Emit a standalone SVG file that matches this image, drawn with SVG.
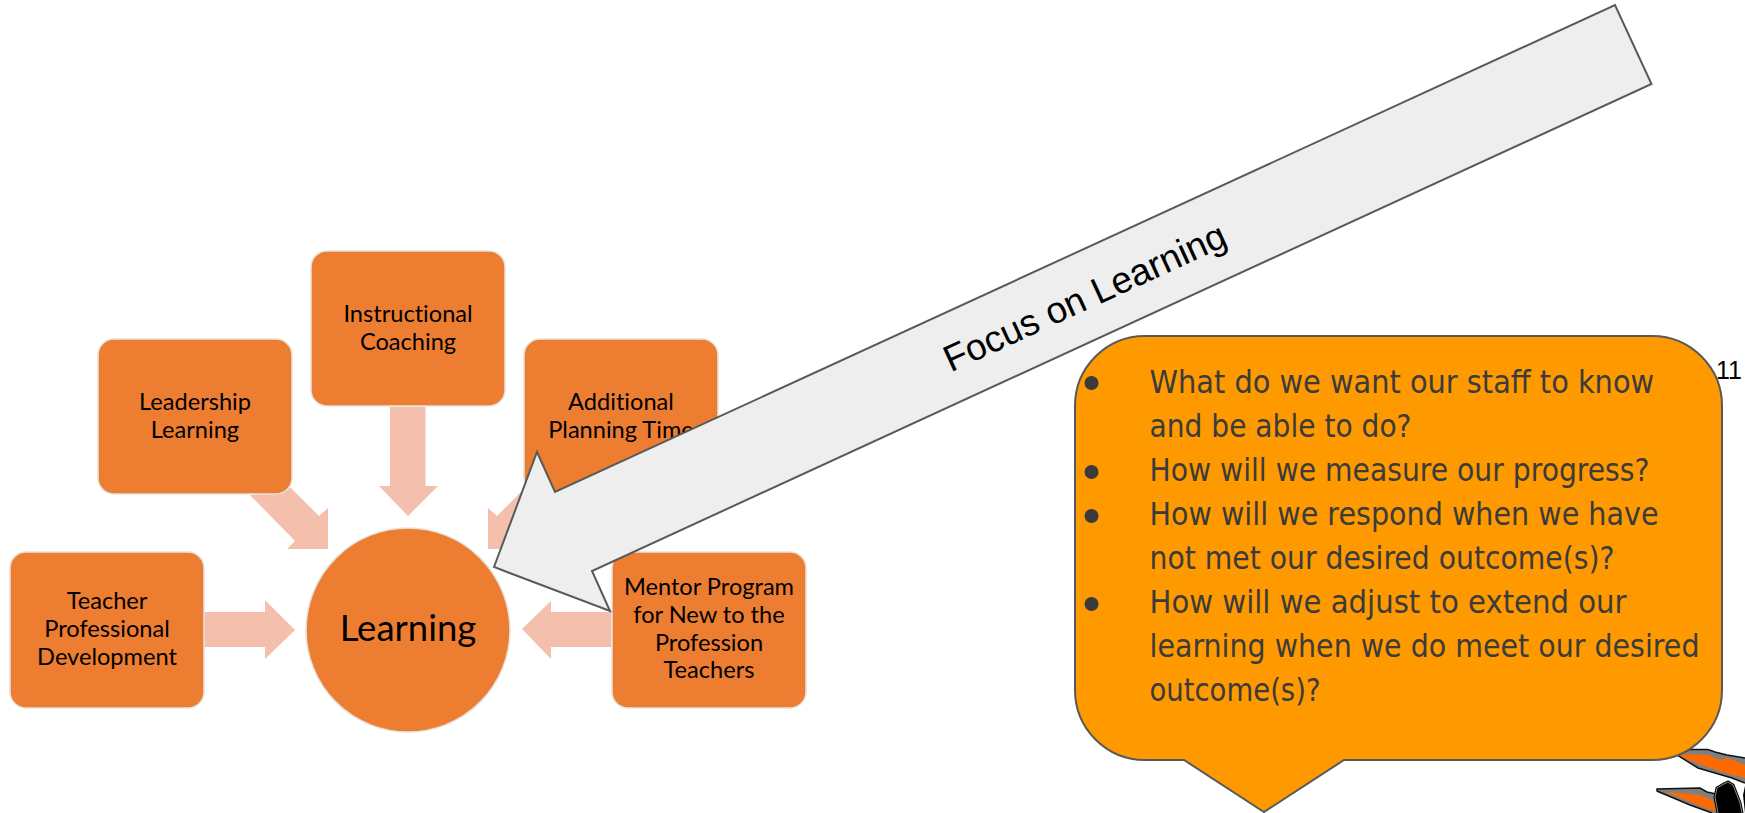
<svg xmlns="http://www.w3.org/2000/svg" width="1745" height="813" viewBox="0 0 1745 813">
<style>
.box{fill:#ed7d31;stroke:#e6e2de;stroke-width:1.5}
.arr{fill:#f4bfac}
.t{font-family:"Lato","Liberation Sans",sans-serif;font-size:23.600px;fill:#000;text-anchor:middle;font-variant-ligatures:none}
.b{font-family:"DejaVu Sans Condensed","DejaVu Sans",sans-serif;font-size:32px;fill:#3b3b3b}
.dot{fill:#3b3b3b}
.o{fill:#ff6a00}
.g{fill:#808080}
.k{fill:none;stroke:#111;stroke-width:1.500}
</style>
<rect width="1745" height="813" fill="#fff"/>
<g id="logo">
<path class="g" d="M1677 755L1690 750H1708L1715 752L1727 755L1745 758V783L1732 778L1698 768Z"/>
<path class="o" d="M1679 756L1685 754L1708 755L1720 760L1728 758L1745 765V778L1725 773L1702 765Z"/>
<path class="k" d="M1745 758L1727 755L1715 752L1708 749.500H1690L1677 755L1698 768L1732 778L1745 783"/>
<path class="g" d="M1657 789L1700 788L1707 792L1716 794L1720 813H1712L1690 805L1657 792Z"/>
<path class="o" d="M1666 792L1700 795L1712 800L1718 811L1705 808Z"/>
<path class="k" d="M1716 794L1707 792L1700 788L1657 789V791L1690 805L1712 813"/>
<path d="M1717 788L1722 785L1728 782L1733 785L1740 803L1742 813H1718L1715 797Z" fill="#000" stroke="#000" stroke-width="3"/>
<path d="M1717 788L1722 785L1728 782L1733 785L1740 803L1742 813M1718 813L1715 797L1717 788" fill="none" stroke="#8a8a8a" stroke-width="1"/>
<path d="M1745 786L1743 795L1745 813Z" fill="#000"/>
</g>
<g id="connectors">
<path class="arr" d="M390 407H425.500V486H438L408 516L379 486H390Z"/>
<path class="arr" d="M204 612H265V600L295 630L265 659V647H204Z"/>
<path class="arr" d="M611 612H551V601L522 629L551 659V647H611Z"/>
<path class="arr" d="M250 495L291 488L319 516L328 508V549H287L295 541Z"/>
<path class="arr" d="M566 495L525 488L497 516L488 508V549H529L521 541Z"/>
</g>
<g id="node-instructional"><rect class="box" x="311" y="251" width="194" height="155" rx="16"/><text class="t"><tspan x="408" y="322">Instructional</tspan><tspan x="408" y="350">Coaching</tspan></text></g>
<g id="node-leadership"><rect class="box" x="98" y="339" width="194" height="155" rx="16"/><text class="t"><tspan x="195" y="410">Leadership</tspan><tspan x="195" y="438">Learning</tspan></text></g>
<g id="node-additional"><rect class="box" x="524" y="339" width="194" height="155" rx="16"/><text class="t"><tspan x="621" y="410">Additional</tspan><tspan x="621" y="438">Planning Time</tspan></text></g>
<g id="node-teacher"><rect class="box" x="10" y="552" width="194" height="156" rx="16"/><text class="t"><tspan x="107" y="609">Teacher</tspan><tspan x="107" y="637">Professional</tspan><tspan x="107" y="665">Development</tspan></text></g>
<g id="node-mentor"><rect class="box" x="612" y="552" width="194" height="156" rx="16"/><text class="t"><tspan x="709" y="595">Mentor Program</tspan><tspan x="709" y="623">for New to the</tspan><tspan x="709" y="651">Profession</tspan><tspan x="709" y="678">Teachers</tspan></text></g>
<g id="node-learning"><circle cx="408" cy="630" r="102" fill="#ed7d31" stroke="#e6e2de" stroke-width="1.5"/><text class="t" x="408" y="641" style="font-size:36.500px">Learning</text></g>
<g id="callout-focus"><path d="M494 567L537 452L555 492L1615 5L1651.500 84L592 571L610 611Z" fill="#eeeeee" stroke="#595959" stroke-width="2"/><text transform="translate(1090 308.500) rotate(-24.650)" text-anchor="middle" style="font-family:'Liberation Sans',sans-serif;font-size:37px" fill="#000">Focus on Learning</text></g>
<g id="bubble"><path d="M1145 336H1652A70 70 0 0 1 1722 406V690A70 70 0 0 1 1652 760H1344L1264 812L1184 760H1145A70 70 0 0 1 1075 690V406A70 70 0 0 1 1145 336Z" fill="#ff9900" stroke="#595959" stroke-width="2"/>
<circle class="dot" cx="1091.500" cy="383" r="7"/><circle class="dot" cx="1091.500" cy="472" r="7"/><circle class="dot" cx="1091.500" cy="516" r="7"/><circle class="dot" cx="1091.500" cy="604" r="7"/>
<text class="b" x="1149.500" y="393" textLength="504.600" lengthAdjust="spacingAndGlyphs">What do we want our staff to know</text>
<text class="b" x="1149.500" y="437" textLength="262" lengthAdjust="spacingAndGlyphs">and be able to do?</text>
<text class="b" x="1149.500" y="481" textLength="500" lengthAdjust="spacingAndGlyphs">How will we measure our progress?</text>
<text class="b" x="1149.500" y="525" textLength="509" lengthAdjust="spacingAndGlyphs">How will we respond when we have</text>
<text class="b" x="1149.500" y="569" textLength="465" lengthAdjust="spacingAndGlyphs">not met our desired outcome(s)?</text>
<text class="b" x="1149.500" y="613" textLength="477" lengthAdjust="spacingAndGlyphs">How will we adjust to extend our</text>
<text class="b" x="1149.500" y="657" textLength="550" lengthAdjust="spacingAndGlyphs">learning when we do meet our desired</text>
<text class="b" x="1149.500" y="701" textLength="171" lengthAdjust="spacingAndGlyphs">outcome(s)?</text></g>
<text id="page-number" x="1716" y="379" font-family="Liberation Sans, sans-serif" font-size="25" fill="#000">11</text>
</svg>
